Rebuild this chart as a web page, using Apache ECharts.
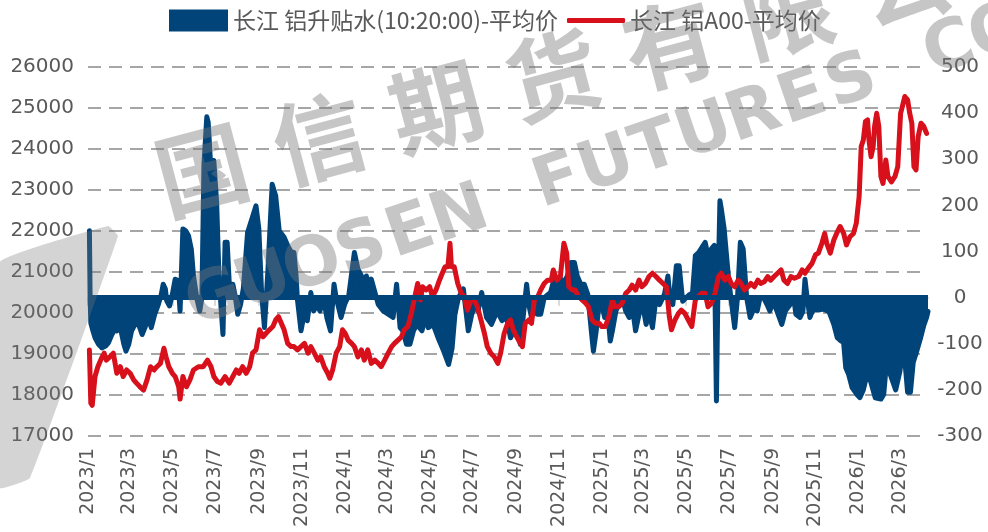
<!DOCTYPE html>
<html><head><meta charset="utf-8">
<script src="https://cdn.jsdelivr.net/npm/echarts@6/dist/echarts.min.js"></script>
<style>html,body{margin:0;padding:0;background:#fff}#c{width:988px;height:532px}</style>
</head><body><div id="c"></div>
<script>
const seriesNames = ['长江 铝升贴水(10:20:00)-平均价', '长江 铝A00-平均价'];
const tickLabels = ['2023/1','2023/3','2023/5','2023/7','2023/9','2023/11','2024/1','2024/3','2024/5','2024/7','2024/9','2024/11','2025/1','2025/3','2025/5','2025/7','2025/9','2025/11','2026/1','2026/3'];
const leftAxisTicks = [17000,18000,19000,20000,21000,22000,23000,24000,25000,26000];
const rightAxisTicks = [-300,-200,-100,0,100,200,300,400,500];

const blueDates = ['2023-01-03','2023-01-04','2023-01-05','2023-01-08','2023-01-11','2023-01-16','2023-01-21','2023-01-26','2023-01-30','2023-02-04','2023-02-09','2023-02-11','2023-02-16','2023-02-21','2023-02-24','2023-02-28','2023-03-04','2023-03-09','2023-03-14','2023-03-19','2023-03-23','2023-03-28','2023-04-01','2023-04-06','2023-04-11','2023-04-15','2023-04-18','2023-04-21','2023-04-23','2023-04-27','2023-05-01','2023-05-05','2023-05-09','2023-05-12','2023-05-16','2023-05-20','2023-05-24','2023-05-28','2023-05-31','2023-06-05','2023-06-09','2023-06-12','2023-06-15','2023-06-19','2023-06-21','2023-06-24','2023-06-29','2023-07-03','2023-07-06','2023-07-09','2023-07-12','2023-07-15','2023-07-18','2023-07-21','2023-07-26','2023-07-29','2023-08-02','2023-08-06','2023-08-10','2023-08-16','2023-08-22','2023-08-28','2023-09-01','2023-09-05','2023-09-09','2023-09-14','2023-09-20','2023-09-25','2023-09-30','2023-10-07','2023-10-12','2023-10-17','2023-10-21','2023-10-24','2023-10-26','2023-10-31','2023-11-04','2023-11-09','2023-11-14','2023-11-18','2023-11-23','2023-11-27','2023-12-02','2023-12-07','2023-12-12','2023-12-17','2023-12-20','2023-12-27','2024-01-01','2024-01-07','2024-01-15','2024-01-20','2024-01-25','2024-01-27','2024-02-01','2024-02-05','2024-02-08','2024-02-18','2024-02-25','2024-03-03','2024-03-10','2024-03-15','2024-03-20','2024-03-24','2024-03-29','2024-04-03','2024-04-08','2024-04-13','2024-04-20','2024-04-25','2024-04-29','2024-05-06','2024-05-13','2024-05-21','2024-05-28','2024-06-02','2024-06-06','2024-06-11','2024-06-18','2024-06-25','2024-06-30','2024-07-05','2024-07-09','2024-07-14','2024-07-21','2024-07-28','2024-08-05','2024-08-12','2024-08-18','2024-08-24','2024-08-29','2024-09-02','2024-09-07','2024-09-12','2024-09-16','2024-09-19','2024-09-23','2024-09-26','2024-10-01','2024-10-06','2024-10-11','2024-10-20','2024-10-25','2024-10-30','2024-11-04','2024-11-08','2024-11-13','2024-11-18','2024-11-23','2024-11-27','2024-12-02','2024-12-07','2024-12-12','2024-12-17','2024-12-20','2024-12-24','2024-12-27','2025-01-01','2025-01-05','2025-01-09','2025-01-13','2025-01-16','2025-01-21','2025-01-25','2025-01-30','2025-02-04','2025-02-09','2025-02-13','2025-02-18','2025-02-23','2025-02-28','2025-03-05','2025-03-09','2025-03-14','2025-03-19','2025-03-24','2025-03-31','2025-04-05','2025-04-08','2025-04-12','2025-04-17','2025-04-21','2025-04-26','2025-05-01','2025-05-06','2025-05-10','2025-05-14','2025-05-19','2025-05-25','2025-05-28','2025-06-01','2025-06-06','2025-06-10','2025-06-13','2025-06-15','2025-06-18','2025-06-20','2025-06-24','2025-06-27','2025-06-30','2025-07-03','2025-07-09','2025-07-13','2025-07-17','2025-07-21','2025-07-26','2025-07-31','2025-08-05','2025-08-10','2025-08-14','2025-08-19','2025-08-24','2025-08-28','2025-09-02','2025-09-07','2025-09-14','2025-09-19','2025-09-26','2025-10-01','2025-10-04','2025-10-10','2025-10-14','2025-10-17','2025-10-20','2025-10-24','2025-10-28','2025-11-05','2025-11-12','2025-11-20','2025-11-27','2025-12-02','2025-12-07','2025-12-10','2025-12-14','2025-12-18','2025-12-23','2025-12-30','2026-01-03','2026-01-08','2026-01-12','2026-01-18','2026-01-25','2026-02-02','2026-02-06','2026-02-10','2026-02-17','2026-02-23','2026-03-01','2026-03-06','2026-03-12','2026-03-16','2026-03-20','2026-03-25','2026-03-30','2026-04-04','2026-04-08','2026-04-10'];
const blueVals = [145,0,-55,-72,-87,-101,-109,-105,-98,-80,-65,-72,-65,-101,-116,-101,-72,-58,-58,-80,-65,-43,-65,-36,-15,5,29,19,-7,-18,7,40,37,-29,149,145,134,105,48,-3,-29,0,290,392,380,300,297,207,62,-15,-80,120,120,29,29,7,-36,-15,20,141,170,199,150,10,-65,60,246,221,145,131,113,99,98,47,-5,-72,-40,-50,11,-29,-15,-29,0,-45,-72,29,0,-43,-15,5,98,62,47,19,47,26,40,-15,-29,-36,-43,29,-65,-72,-101,-101,-72,-58,-72,-43,-65,-58,-87,-116,-145,-109,-36,0,19,-72,-36,-15,-29,11,-43,-58,-29,-50,-40,-87,-72,-15,-101,-29,29,-15,-43,0,-36,-36,0,11,40,33,40,33,47,76,76,47,29,29,7,-72,-116,-72,-29,-15,-43,-29,-94,-72,-29,-15,0,-29,-43,-15,-72,-36,-15,-58,-29,-65,0,-15,7,47,0,-15,69,69,-8,0,7,10,91,98,113,120,91,106,113,-224,0,210,192,149,98,47,7,-65,0,120,106,0,-43,-25,-29,0,0,-15,-29,-8,-29,-58,-29,-15,0,-36,-43,-30,40,0,-43,-27,-27,-25,-30,-58,-87,-94,-80,-152,-166,-195,-210,-217,-200,-174,-180,-217,-220,-210,-140,-174,-200,-160,-100,-205,-205,-140,-116,-90,-60,-43,-30];

const redDates = ['2023-01-03','2023-01-05','2023-01-07','2023-01-11','2023-01-15','2023-01-21','2023-01-24','2023-01-27','2023-02-01','2023-02-06','2023-02-11','2023-02-16','2023-02-20','2023-02-25','2023-03-02','2023-03-07','2023-03-11','2023-03-16','2023-03-21','2023-03-26','2023-03-31','2023-04-05','2023-04-09','2023-04-14','2023-04-19','2023-04-22','2023-04-26','2023-05-01','2023-05-05','2023-05-10','2023-05-12','2023-05-16','2023-05-21','2023-05-26','2023-05-31','2023-06-07','2023-06-14','2023-06-20','2023-06-25','2023-06-29','2023-07-04','2023-07-09','2023-07-15','2023-07-21','2023-07-26','2023-07-31','2023-08-04','2023-08-09','2023-08-14','2023-08-19','2023-08-23','2023-08-28','2023-09-02','2023-09-07','2023-09-11','2023-09-16','2023-09-21','2023-09-25','2023-09-29','2023-10-03','2023-10-07','2023-10-12','2023-10-17','2023-10-21','2023-10-26','2023-10-31','2023-11-05','2023-11-10','2023-11-14','2023-11-19','2023-11-24','2023-11-28','2023-12-03','2023-12-08','2023-12-11','2023-12-15','2023-12-20','2023-12-25','2023-12-29','2024-01-02','2024-01-06','2024-01-11','2024-01-15','2024-01-20','2024-01-25','2024-01-29','2024-02-03','2024-02-08','2024-02-13','2024-02-18','2024-02-22','2024-02-27','2024-03-03','2024-03-08','2024-03-12','2024-03-17','2024-03-22','2024-03-26','2024-03-31','2024-04-05','2024-04-10','2024-04-14','2024-04-18','2024-04-21','2024-04-26','2024-05-01','2024-05-05','2024-05-10','2024-05-15','2024-05-19','2024-05-23','2024-05-27','2024-05-30','2024-06-01','2024-06-05','2024-06-10','2024-06-15','2024-06-19','2024-06-24','2024-06-29','2024-07-04','2024-07-08','2024-07-13','2024-07-18','2024-07-22','2024-07-27','2024-08-01','2024-08-06','2024-08-10','2024-08-15','2024-08-20','2024-08-24','2024-08-28','2024-09-02','2024-09-07','2024-09-10','2024-09-14','2024-09-19','2024-09-23','2024-09-27','2024-10-02','2024-10-06','2024-10-11','2024-10-16','2024-10-21','2024-10-24','2024-10-29','2024-11-03','2024-11-08','2024-11-12','2024-11-15','2024-11-20','2024-11-24','2024-11-29','2024-12-04','2024-12-09','2024-12-13','2024-12-18','2024-12-23','2024-12-28','2025-01-01','2025-01-06','2025-01-11','2025-01-16','2025-01-20','2025-01-25','2025-01-30','2025-02-04','2025-02-09','2025-02-13','2025-02-18','2025-02-23','2025-02-27','2025-03-04','2025-03-09','2025-03-14','2025-03-19','2025-03-24','2025-03-29','2025-04-03','2025-04-07','2025-04-10','2025-04-15','2025-04-20','2025-04-24','2025-04-29','2025-05-04','2025-05-09','2025-05-14','2025-05-18','2025-05-23','2025-05-28','2025-06-01','2025-06-06','2025-06-11','2025-06-16','2025-06-20','2025-06-25','2025-06-30','2025-07-04','2025-07-09','2025-07-14','2025-07-18','2025-07-23','2025-07-28','2025-08-01','2025-08-06','2025-08-11','2025-08-15','2025-08-20','2025-08-25','2025-08-29','2025-09-03','2025-09-08','2025-09-13','2025-09-17','2025-09-22','2025-09-27','2025-10-02','2025-10-08','2025-10-13','2025-10-17','2025-10-22','2025-10-27','2025-11-01','2025-11-05','2025-11-10','2025-11-14','2025-11-17','2025-11-22','2025-11-27','2025-12-01','2025-12-06','2025-12-11','2025-12-15','2025-12-20','2025-12-25','2025-12-29','2026-01-02','2026-01-05','2026-01-08','2026-01-11','2026-01-14','2026-01-16','2026-01-19','2026-01-22','2026-01-24','2026-01-27','2026-01-30','2026-02-02','2026-02-05','2026-02-09','2026-02-12','2026-02-17','2026-02-22','2026-02-26','2026-03-02','2026-03-05','2026-03-08','2026-03-12','2026-03-15','2026-03-18','2026-03-21','2026-03-24','2026-03-27','2026-03-31','2026-04-04','2026-04-08'];
const redVals = [19100,17800,17750,18450,18690,18930,19020,18850,18930,19020,18530,18690,18450,18610,18530,18370,18290,18200,18120,18370,18690,18610,18690,18770,19140,18930,18690,18530,18450,18200,17900,18450,18200,18370,18610,18690,18690,18850,18690,18450,18330,18290,18450,18290,18450,18610,18530,18690,18530,18690,19020,19100,19590,19420,19500,19590,19670,19830,19910,19750,19590,19260,19180,19180,19100,19180,19260,19020,19180,19020,18850,18930,18690,18530,18410,18610,19020,19180,19590,19500,19340,19260,19180,18930,19100,18850,19100,18770,18850,18770,18690,18850,19020,19180,19260,19340,19420,19590,19670,19990,20400,20720,20320,20640,20560,20640,20400,20560,20800,20970,21130,21130,21700,21130,21130,20720,20480,20400,20070,20320,20320,20150,19830,19500,19180,19020,18930,18770,19020,19500,19750,19830,19590,19420,19260,19180,19750,19830,19750,20320,20400,20560,20720,20800,20800,21050,20800,20890,21700,21460,20640,20560,20560,20400,20320,20240,20150,19830,19750,19750,19670,19670,19910,20320,20150,20150,20240,20480,20560,20680,20560,20800,20640,20720,20890,20970,20890,20800,20720,20640,19910,19590,19830,19990,20070,19990,19830,19670,20320,20400,20480,20480,20150,20240,20480,20890,20970,20800,20890,20720,20640,20800,20720,20560,20640,20720,20640,20800,20720,20760,20890,20800,20890,20970,21050,20800,20720,20890,20850,20890,21050,20970,21100,21210,21420,21460,21700,21940,21700,21460,21780,21940,22110,21940,21660,21860,21940,22190,22840,24060,24220,24670,24710,24220,23810,24060,24550,24870,24550,23330,23160,23730,23330,23200,23330,23570,24870,25070,25280,25200,24870,24630,23570,23490,24300,24630,24550,24380];

const AXIS_MIN = '2023-01-01';
const AXIS_MAX = '2026-04-10';
const watermarkCN = '国信期货有限公司';
const watermarkEN = 'GUOSEN FUTURES CO';

function toTs(s) {
  const p = s.split(/[-\/]/).map(Number);
  return new Date(p[0], p[1] - 1, p[2] || 1).getTime();
}
const tickVals = tickLabels.map(toTs);
function fmt(v) {
  const i = tickVals.indexOf(v);
  if (i >= 0) return tickLabels[i];
  const d = new Date(v);
  return d.getFullYear() + '/' + (d.getMonth() + 1);
}

const BLUE = '#00447a';
const RED = '#d7101b';
const TXT = '#595959';
const WM = 'rgba(120,120,120,0.42)';
const NUM_FONT = '"DejaVu Sans", sans-serif';
const CJK_FONT = '"Noto Sans CJK SC", sans-serif';

// watermark (decoration): logo fragment at left + slanted company name
const graphics = [{
  type: 'polygon', z: 100, silent: true,
  shape: {points: [[0, 262], [108, 226], [118, 236], [30, 478], [0, 488]], smooth: 0.08},
  style: {fill: 'rgba(120,120,120,0.32)'}
}];
Array.from(watermarkCN).forEach((ch, i) => {
  graphics.push({type: 'text', z: 100, silent: true, x: 202 + i * 117, y: 170 - i * 31.5, rotation: 0.26,
    style: {text: ch, font: 'bold 92px "Noto Sans CJK SC"', fill: WM, textAlign: 'center', textVerticalAlign: 'middle'}});
});
Array.from(watermarkEN).forEach((ch, i) => {
  if (ch === ' ') return;
  graphics.push({type: 'text', z: 100, silent: true, x: 215 + i * 49, y: 300 - i * 49 * 0.34, rotation: 0.33,
    style: {text: ch, font: 'bold 68px "DejaVu Sans"', fill: WM, textAlign: 'center', textVerticalAlign: 'middle'}});
});

const chart = echarts.init(document.getElementById('c'), null, {renderer: 'canvas'});
chart.setOption({
  animation: false,
  backgroundColor: '#fff',
  legend: [{
    left: 169, top: 9, padding: 0, itemWidth: 59, itemHeight: 22, icon: 'rect',
    textStyle: {fontFamily: CJK_FONT, fontSize: 23, color: TXT},
    data: [seriesNames[0]]
  }, {
    left: 567, top: 9, padding: 0, itemWidth: 58, itemHeight: 5, icon: 'roundRect',
    textStyle: {fontFamily: CJK_FONT, fontSize: 23, color: TXT},
    data: [seriesNames[1]]
  }],
  grid: {left: 88, right: 60, top: 67, bottom: 96},
  xAxis: {
    type: 'value', min: toTs(AXIS_MIN), max: toTs(AXIS_MAX),
    axisLine: {lineStyle: {color: '#d9d9d9', width: 2}},
    axisTick: {show: true, customValues: tickVals, length: 8, lineStyle: {color: '#d9d9d9', width: 2}},
    axisLabel: {customValues: tickVals, formatter: fmt, rotate: 90, margin: 12, fontFamily: NUM_FONT, fontSize: 19, color: TXT, showMinLabel: true, showMaxLabel: true, hideOverlap: false},
    splitLine: {show: false}
  },
  yAxis: [{
    type: 'value', min: leftAxisTicks[0], max: leftAxisTicks[leftAxisTicks.length - 1], interval: 1000,
    axisLine: {show: false}, axisTick: {show: false},
    axisLabel: {margin: 14, fontFamily: NUM_FONT, fontSize: 20, color: TXT, formatter: v => String(v)},
    splitLine: {lineStyle: {color: '#a6a6a6', width: 2, type: [13, 8]}}
  }, {
    type: 'value', min: rightAxisTicks[0], max: rightAxisTicks[rightAxisTicks.length - 1], interval: 100,
    axisLine: {show: false}, axisTick: {show: false},
    axisLabel: {margin: 32, align: 'center', fontFamily: NUM_FONT, fontSize: 20, color: TXT, formatter: v => String(v)},
    splitLine: {show: false}
  }],
  graphic: graphics,
  series: [{
    name: seriesNames[0], type: 'line', yAxisIndex: 1, symbol: 'none', z: 2,
    data: blueDates.map((d, i) => [toTs(d), blueVals[i]]),
    lineStyle: {color: BLUE, width: 5, join: 'round', cap: 'round'},
    itemStyle: {color: BLUE},
    areaStyle: {color: BLUE, opacity: 1},
    markLine: {silent: true, symbol: ['none', 'none'], label: {show: false},
      lineStyle: {color: BLUE, width: 5, type: 'solid'}, data: [{yAxis: 0}]}
  }, {
    name: seriesNames[1], type: 'line', yAxisIndex: 0, symbol: 'none', z: 3,
    data: redDates.map((d, i) => [toTs(d), redVals[i]]),
    lineStyle: {color: RED, width: 5, join: 'round', cap: 'round'},
    itemStyle: {color: RED}
  }]
});
</script>
</body></html>
